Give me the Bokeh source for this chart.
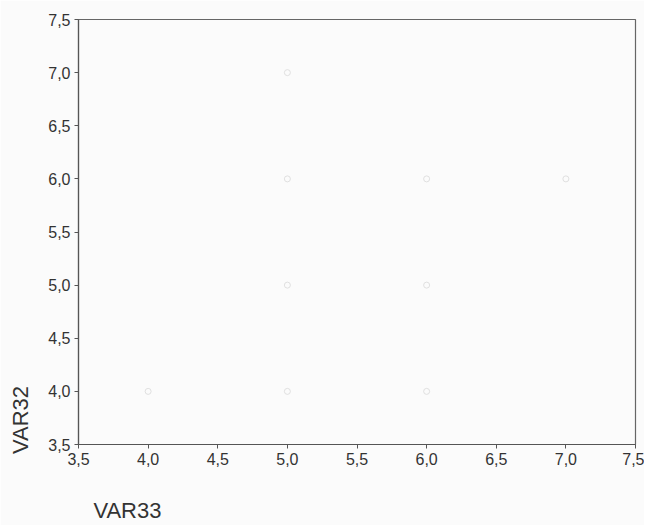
from bokeh.plotting import figure
from bokeh.models import FixedTicker, Range1d
from bokeh.embed import file_html
from bokeh.resources import INLINE

# data: VAR33 (x) vs VAR32 (y)
var33 = [4.0, 5.0, 6.0, 5.0, 6.0, 5.0, 6.0, 7.0, 5.0]
var32 = [4.0, 4.0, 4.0, 5.0, 5.0, 6.0, 6.0, 6.0, 7.0]

tick_values = [3.5, 4.0, 4.5, 5.0, 5.5, 6.0, 6.5, 7.0, 7.5]
tick_labels = ["3,5", "4,0", "4,5", "5,0", "5,5", "6,0", "6,5", "7,0", "7,5"]
x_name = "VAR33"
y_name = "VAR32"

NBSP = "\u00a0"
bg = "#fbfbfb"
p = figure(width=644, height=525, output_backend="svg", toolbar_location=None,
           x_range=Range1d(3.5, 7.5), y_range=Range1d(3.5, 7.5),
           min_border_left=78, min_border_right=9, min_border_top=19, min_border_bottom=79)
p.background_fill_color = bg
p.border_fill_color = bg
p.outline_line_color = "#666666"
p.outline_line_width = 1.2
p.grid.visible = False

overrides = {v: l for v, l in zip(tick_values, tick_labels)}
for ax in (p.xaxis[0], p.yaxis[0]):
    ax.ticker = FixedTicker(ticks=tick_values)
    ax.major_label_overrides = overrides
    ax.major_label_text_font = "Liberation Sans"
    ax.major_label_text_font_size = "16px"
    ax.major_label_text_color = "#333333"
    ax.axis_line_color = "#555555"
    ax.axis_line_width = 1.2
    ax.major_tick_line_color = "#555555"
    ax.major_tick_out = 4
    ax.major_tick_in = 0
    ax.minor_tick_line_color = None
    ax.major_label_standoff = 4
    ax.axis_label_text_font = "Liberation Sans"
    ax.axis_label_text_font_size = "22px"
    ax.axis_label_text_font_style = "normal"
    ax.axis_label_text_color = "#333333"
    ax.axis_label_align = "start"

p.scatter(var33, var32, size=6, marker="circle", fill_color=None,
          line_color="#e0e0e0", line_width=1)

p.xaxis[0].axis_label_standoff = 30
p.yaxis[0].axis_label_standoff = 12
p.xaxis[0].axis_label = NBSP * 16 + x_name
p.yaxis[0].axis_label = NBSP * 8 + y_name

open("out.html", "w").write(file_html(p, INLINE))
